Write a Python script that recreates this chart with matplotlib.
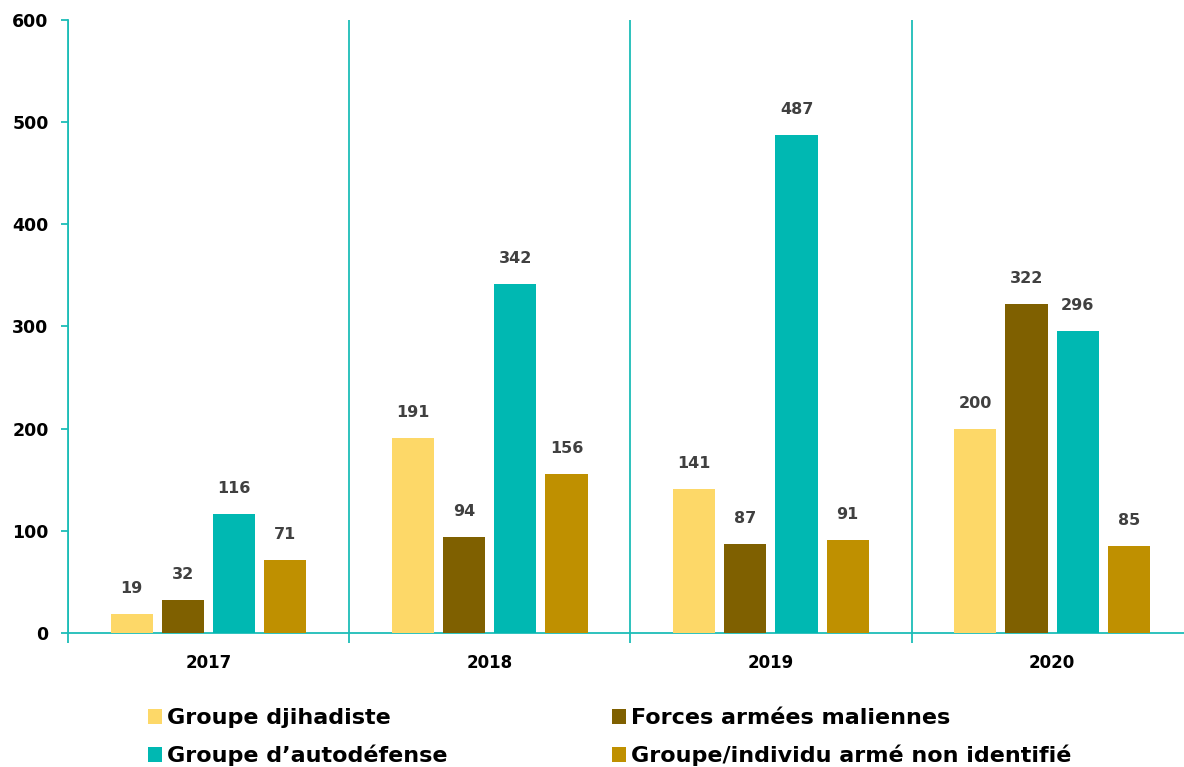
"""Bar chart of victims by perpetrator group, Mali 2017-2020."""

import matplotlib

matplotlib.use("Agg")
import matplotlib.pyplot as plt
import numpy as np
from matplotlib.patches import Patch

YEARS = ["2017", "2018", "2019", "2020"]
SERIES = [
    "Groupe djihadiste",
    "Forces armées maliennes",
    "Groupe d’autodéfense",
    "Groupe/individu armé non identifié",
]
DJIHADISTE = [19, 191, 141, 200]
FAMA = [32, 94, 87, 322]
AUTODEFENSE = [116, 342, 487, 296]
NON_IDENTIFIE = [71, 156, 91, 85]

COLORS = ["#FDD868", "#7F6000", "#00B8B2", "#BF9000"]
AXIS_COLOR = "#1CBDB7"
LABEL_COLOR = "#404040"

plt.rcParams["font.family"] = ["DejaVu Sans"]
plt.rcParams["font.weight"] = "bold"

fig = plt.figure(figsize=(11.84, 7.67), dpi=100)
ax = fig.add_axes([0.0574, 0.1747, 0.950, 0.7993])

values = [DJIHADISTE, FAMA, AUTODEFENSE, NON_IDENTIFIE]
x = np.arange(len(YEARS))
step = 0.182
width = 0.15
for i, (vals, color) in enumerate(zip(values, COLORS)):
    pos = x + (i - 1.5) * step
    bars = ax.bar(pos, vals, width=width, color=color, zorder=3)
    for rect, v in zip(bars, vals):
        ax.annotate(
            f"{v}",
            (rect.get_x() + rect.get_width() / 2, v),
            xytext=(0, 13),
            textcoords="offset points",
            ha="center",
            va="bottom",
            fontsize=11.5,
            fontweight="bold",
            color=LABEL_COLOR,
        )

ax.set_xlim(-0.5, len(YEARS) - 0.5)
ax.set_ylim(0, 600)
ax.set_yticks(range(0, 601, 100))

ax.set_xticks(np.arange(len(YEARS) + 1) - 0.5)
ax.set_xticklabels([])
ax.set_xticks(x, minor=True)
ax.set_xticklabels(YEARS, minor=True)
ax.tick_params(axis="x", which="minor", length=0, pad=15, labelsize=12)
ax.tick_params(axis="x", which="major", length=7, width=1.3, color=AXIS_COLOR)
ax.tick_params(axis="y", length=5, width=1.3, color=AXIS_COLOR, labelsize=12.5, pad=9)
ax.grid(axis="x", which="major", color=AXIS_COLOR, linewidth=1.3, zorder=1)

for side in ["top", "right"]:
    ax.spines[side].set_visible(False)
for side in ["left", "bottom"]:
    ax.spines[side].set_color(AXIS_COLOR)
    ax.spines[side].set_linewidth(1.3)

order = [0, 2, 1, 3]
handles = [Patch(facecolor=COLORS[i], label=SERIES[i]) for i in order]
fig.legend(
    handles=handles,
    loc="lower left",
    bbox_to_anchor=(0.108, -0.025),
    ncol=2,
    frameon=False,
    fontsize=16,
    handlelength=0.65,
    handleheight=0.65,
    handletextpad=0.2,
    columnspacing=7.4,
    labelspacing=0.75,
)

fig.savefig("out.png", dpi=100)
